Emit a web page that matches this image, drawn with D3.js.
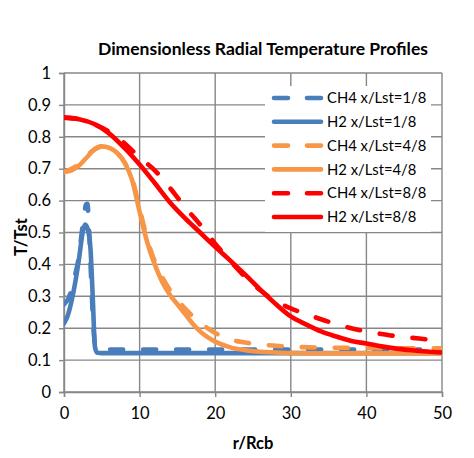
<!DOCTYPE html>
<html>
<head>
<meta charset="utf-8">
<script src="https://cdn.jsdelivr.net/npm/d3@7"></script>
<style>
  html, body { margin: 0; padding: 0; background: #fff; }
  svg { display: block; font-family: Lato, "Open Sans", sans-serif; }
</style>
</head>
<body>
<script>
// ---- Data ----
const title = "Dimensionless Radial Temperature Profiles";
const xLabel = "r/Rcb";
const yLabel = "T/Tst";
const xTicks = [0, 10, 20, 30, 40, 50];
const yTicks = [0, 0.1, 0.2, 0.3, 0.4, 0.5, 0.6, 0.7, 0.8, 0.9, 1];
const seriesNames = ["CH4 x/Lst=1/8", "H2 x/Lst=1/8", "CH4 x/Lst=4/8", "H2 x/Lst=4/8", "CH4 x/Lst=8/8", "H2 x/Lst=8/8"];

const rCH4_1 = [0, 0.5, 1, 1.5, 2, 2.4, 2.7, 2.9, 3.1, 3.3, 3.6, 3.9, 4.2, 4.6, 10, 20, 30, 40, 50];
const tCH4_1 = [0.275, 0.29, 0.32, 0.37, 0.43, 0.51, 0.56, 0.588, 0.59, 0.52, 0.35, 0.2, 0.14, 0.133, 0.133, 0.133, 0.133, 0.133, 0.133];

const rH2_1 = [0, 0.5, 1, 1.5, 2, 2.5, 2.8, 3.2, 3.5, 3.8, 4.1, 4.4, 5, 10, 20, 30, 40, 50];
const tH2_1 = [0.215, 0.24, 0.285, 0.345, 0.42, 0.505, 0.525, 0.505, 0.45, 0.3, 0.14, 0.123, 0.122, 0.122, 0.122, 0.122, 0.122, 0.122];

const rCH4_4 = [0, 1, 2, 3, 4, 5, 6, 7, 8, 9, 10, 11, 12, 13, 14, 15, 16, 18, 20, 22, 24, 26, 28, 30, 35, 40, 45, 50];
const tCH4_4 = [0.69, 0.70, 0.715, 0.74, 0.76, 0.77, 0.765, 0.75, 0.72, 0.67, 0.575, 0.48, 0.41, 0.36, 0.32, 0.29, 0.262, 0.218, 0.185, 0.165, 0.155, 0.149, 0.145, 0.142, 0.139, 0.138, 0.137, 0.137];

const rH2_4 = [0, 1, 2, 3, 4, 5, 6, 7, 8, 9, 10, 11, 12, 13, 14, 15, 16, 17, 18, 20, 22, 24, 26, 28, 30, 35, 40, 45, 50];
const tH2_4 = [0.69, 0.695, 0.71, 0.735, 0.76, 0.77, 0.765, 0.75, 0.72, 0.665, 0.565, 0.47, 0.40, 0.345, 0.305, 0.275, 0.245, 0.215, 0.19, 0.158, 0.14, 0.131, 0.126, 0.124, 0.122, 0.121, 0.121, 0.121, 0.121];

const rCH4_8 = [0, 2, 4, 6, 8, 10, 12, 14, 16, 18, 20, 22, 24, 26, 28, 30, 32, 34, 36, 38, 40, 42, 44, 46, 48, 50];
const tCH4_8 = [0.86, 0.855, 0.84, 0.815, 0.78, 0.735, 0.695, 0.64, 0.58, 0.525, 0.465, 0.41, 0.36, 0.318, 0.285, 0.262, 0.245, 0.228, 0.213, 0.2, 0.19, 0.182, 0.175, 0.17, 0.165, 0.16];

const rH2_8 = [0, 2, 4, 6, 8, 10, 12, 14, 16, 18, 20, 22, 24, 26, 28, 30, 32, 34, 36, 38, 40, 42, 44, 46, 48, 50];
const tH2_8 = [0.86, 0.855, 0.84, 0.81, 0.765, 0.713, 0.655, 0.595, 0.545, 0.50, 0.455, 0.412, 0.367, 0.32, 0.276, 0.237, 0.212, 0.19, 0.174, 0.16, 0.152, 0.143, 0.136, 0.131, 0.127, 0.124];

const seriesR = [rCH4_1, rH2_1, rCH4_4, rH2_4, rCH4_8, rH2_8];
const seriesT = [tCH4_1, tH2_1, tCH4_4, tH2_4, tCH4_8, tH2_8];
const seriesColors = ["#4a7ebb", "#4a7ebb", "#f79646", "#f79646", "#ff0000", "#ff0000"];
const seriesDashed = [true, false, true, false, true, false];

// ---- Layout ----
const W = 474, H = 458;
const plot = { left: 64, right: 442, top: 73, bottom: 392 };
const gridColor = "#878787";
const lineW = 4.6;
const dash = "13,20";

const svg = d3.select("body").append("svg").attr("width", W).attr("height", H);

const x = d3.scaleLinear().domain([0, 50]).range([plot.left, plot.right]);
const y = d3.scaleLinear().domain([0, 1]).range([plot.bottom, plot.top]);

// Gridlines
svg.append("g").selectAll("line.h").data(yTicks).join("line")
  .attr("x1", plot.left).attr("x2", plot.right)
  .attr("y1", d => y(d)).attr("y2", d => y(d))
  .attr("stroke", gridColor).attr("stroke-width", 1.4);
svg.append("g").selectAll("line.v").data(xTicks).join("line")
  .attr("x1", d => x(d)).attr("x2", d => x(d))
  .attr("y1", plot.top).attr("y2", plot.bottom)
  .attr("stroke", gridColor).attr("stroke-width", 1.4);

// Axes
const yAxis = d3.axisLeft(y).tickValues(yTicks).tickSize(5).tickPadding(8)
  .tickFormat(d => d3.format("")(+d.toFixed(1)));
const gy = svg.append("g").attr("transform", `translate(${plot.left},0)`).call(yAxis);
const xAxis = d3.axisBottom(x).tickValues(xTicks).tickSize(5).tickPadding(10);
const gx = svg.append("g").attr("transform", `translate(0,${plot.bottom})`).call(xAxis);
[gx, gy].forEach(g => {
  g.select(".domain").attr("stroke", gridColor).attr("stroke-width", 1.4);
  g.selectAll(".tick line").attr("stroke", gridColor).attr("stroke-width", 1.4);
  g.selectAll(".tick text").attr("fill", "#000").style("font-size", "16.5px").style("font-family", "Lato, sans-serif");
});

// Clip
svg.append("clipPath").attr("id", "clip").append("rect")
  .attr("x", plot.left).attr("y", plot.top)
  .attr("width", plot.right - plot.left).attr("height", plot.bottom - plot.top);

const line = d3.line().x(d => x(d[0])).y(d => y(d[1])).curve(d3.curveMonotoneX);
const gLines = svg.append("g").attr("clip-path", "url(#clip)");
seriesR.forEach((rs, i) => {
  const pts = rs.map((r, j) => [r, seriesT[i][j]]);
  gLines.append("path").datum(pts)
    .attr("d", line)
    .attr("fill", "none")
    .attr("stroke", seriesColors[i])
    .attr("stroke-width", lineW)
    .attr("stroke-linecap", "round")
    .attr("stroke-linejoin", "round")
    .attr("stroke-dasharray", seriesDashed[i] ? dash : null);
});

// Legend
const leg = svg.append("g");
leg.append("rect").attr("x", 265).attr("y", 86).attr("width", 166).attr("height", 146).attr("fill", "#fff");
seriesNames.forEach((name, i) => {
  const cy = 98 + i * 23.8;
  leg.append("line").attr("x1", 274).attr("x2", 321).attr("y1", cy).attr("y2", cy)
    .attr("stroke", seriesColors[i]).attr("stroke-width", lineW)
    .attr("stroke-linecap", "round")
    .attr("stroke-dasharray", seriesDashed[i] ? "14,19" : null);
  leg.append("text").attr("x", 327).attr("y", cy).attr("dy", "0.35em")
    .style("font-size", "14.8px").attr("fill", "#000").text(name);
});

// Title
svg.append("text").attr("x", 263).attr("y", 55).attr("text-anchor", "middle")
  .style("font-size", "17.5px").style("font-weight", "bold").text(title);

// Axis titles
svg.append("text").attr("x", 253).attr("y", 449).attr("text-anchor", "middle")
  .style("font-size", "16.5px").style("font-weight", "bold").text(xLabel);
svg.append("text").attr("transform", "translate(27,237) rotate(-90)").attr("text-anchor", "middle")
  .style("font-size", "16.5px").style("font-weight", "bold").text(yLabel);
</script>
</body>
</html>
